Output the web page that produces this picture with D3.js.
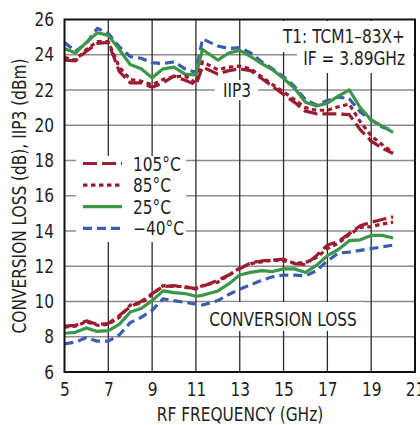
<!DOCTYPE html>
<html>
<head>
<meta charset="utf-8">
<script src="https://cdn.jsdelivr.net/npm/d3@7"></script>
<style>
  body { margin: 0; background: #fff; }
  text { font-family: "Liberation Sans Narrow", "DejaVu Sans Condensed", "Arial Narrow", sans-serif; fill: #231f20; }
</style>
</head>
<body>
<svg id="chart" width="420" height="425"></svg>
<script>
// frequency points (GHz)
var freq = [5, 5.5, 6, 6.5, 7, 7.5, 8, 8.5, 9, 9.5, 10, 10.5, 11, 11.3, 12, 12.5, 13, 13.5, 14, 14.5, 15, 15.5, 16, 16.5, 17, 17.5, 18, 18.5, 19, 19.5, 20];

// IIP3 (dBm)
var iip3_105 = [23.7, 23.65, 24.2, 24.65, 24.7, 23.05, 22.4, 22.4, 22.15, 22.4, 22.8, 22.55, 22.3, 23.3, 22.9, 23.1, 23.2, 23.1, 22.65, 22.2, 21.75, 21.3, 20.8, 20.65, 20.65, 20.65, 20.6, 19.75, 19.1, 18.7, 18.4];
var iip3_85 = [23.85, 23.7, 24.3, 24.75, 24.75, 23.3, 22.6, 22.5, 22.3, 22.6, 22.75, 22.8, 22.4, 23.6, 23.15, 23.3, 23.35, 23.2, 22.75, 22.3, 21.9, 21.45, 21.0, 20.85, 20.85, 21.05, 21.2, 20.2, 19.4, 18.9, 18.45];
var iip3_25 = [24.35, 24.1, 24.7, 25.25, 25.1, 24.3, 23.45, 23.2, 22.7, 23.2, 23.3, 22.9, 22.85, 24.3, 23.7, 24.1, 24.25, 23.9, 23.5, 23.15, 22.65, 22.1, 21.3, 21.1, 21.25, 21.65, 22.0, 21.0, 20.3, 19.95, 19.6];
var iip3_m40 = [24.7, 24.2, 24.65, 25.5, 25.2, 24.45, 23.9, 23.8, 23.55, 23.5, 23.6, 23.2, 23.0, 24.9, 24.5, 24.35, 24.4, 24.1, 23.6, 23.2, 22.75, 22.2, 21.45, 21.15, 21.4, 21.6, 21.5, 20.75, 20.3, 19.9, 19.7];

// conversion loss (dB)
var cl_105 = [8.6, 8.65, 8.9, 8.7, 8.75, 9.2, 9.7, 10.0, 10.45, 10.85, 10.9, 10.8, 10.75, 10.85, 11.2, 11.5, 11.85, 12.2, 12.3, 12.35, 12.4, 12.15, 12.1, 12.6, 13.2, 13.4, 13.85, 14.3, 14.5, 14.65, 14.8];
var cl_85 = [8.55, 8.6, 8.85, 8.65, 8.7, 9.1, 9.8, 9.9, 10.4, 10.9, 10.85, 10.85, 10.7, 10.9, 11.1, 11.5, 11.9, 12.15, 12.25, 12.35, 12.3, 12.2, 12.2, 12.5, 13.0, 13.3, 13.8, 14.2, 14.25, 14.4, 14.5];
var cl_25 = [8.2, 8.25, 8.5, 8.3, 8.35, 8.7, 9.4, 9.6, 10.05, 10.6, 10.5, 10.45, 10.3, 10.35, 10.6, 11.0, 11.5, 11.65, 11.75, 11.7, 11.85, 11.85, 11.65, 12.05, 12.6, 12.95, 13.45, 13.5, 13.75, 13.75, 13.6];
var cl_m40 = [7.6, 7.7, 7.95, 7.75, 7.75, 8.1, 8.8, 9.1, 9.5, 10.15, 10.05, 9.95, 9.85, 9.8, 10.05, 10.4, 10.7, 10.95, 11.2, 11.4, 11.5, 11.5, 11.45, 11.75, 12.3, 12.75, 12.8, 12.9, 13.0, 13.1, 13.2];

var xTicks = [5, 7, 9, 11, 13, 15, 17, 19, 21];
var yTicks = [6, 8, 10, 12, 14, 16, 18, 20, 22, 24, 26];
var tempLabels = ["105°C", "85°C", "25°C", "\u221240°C"];

var red = "#9c1c31", green = "#3b9648", blue = "#3a5daf";
var styles = [
  { color: red, dash: "14,5" },
  { color: red, dash: "4.5,3.5" },
  { color: green, dash: null },
  { color: blue, dash: "9,5" }
];

var svg = d3.select("#chart");
var pLeft = 64.5, pRight = 415, pTop = 19.5, pBottom = 372;
var squeeze = "scale(0.9,1)";

var x = d3.scaleLinear().domain([5, 21]).range([pLeft, pRight]);
var y = d3.scaleLinear().domain([6, 26]).range([pBottom, pTop]);

// narrow, tall text like the original condensed face
function label(px, py, str, anchor, extra) {
    return svg.append("text")
        .attr("transform", "translate(" + px + "," + py + ")" + (extra || "") + " " + squeeze)
        .attr("text-anchor", anchor || "start")
        .style("font-size", "19px")
        .text(str);
}

// grid
svg.append("g").selectAll("line")
    .data(yTicks.filter(function(d) { return d > 6 && d < 26; }))
    .enter().append("line")
    .attr("x1", pLeft).attr("x2", pRight)
    .attr("y1", function(d) { return y(d); })
    .attr("y2", function(d) { return y(d); })
    .style("stroke", "#8c8c8c").style("stroke-width", 1.5);

svg.append("g").selectAll("line")
    .data(xTicks.filter(function(d) { return d > 5 && d < 21; }))
    .enter().append("line")
    .attr("y1", pTop).attr("y2", pBottom)
    .attr("x1", function(d) { return x(d); })
    .attr("x2", function(d) { return x(d); })
    .style("stroke", "#2b2b2b").style("stroke-width", 1.3);

// white blocks behind labels
var blocks = [[255, 21, 158, 31], [297, 52, 116, 21], [215, 80, 43, 20], [76, 156, 110, 86], [205, 302, 158, 29]];
svg.append("g").selectAll("rect")
    .data(blocks)
    .enter().append("rect")
    .attr("x", function(d) { return d[0]; })
    .attr("y", function(d) { return d[1]; })
    .attr("width", function(d) { return d[2]; })
    .attr("height", function(d) { return d[3]; })
    .style("fill", "#fff");

// curves
var line = d3.line()
    .x(function(d) { return x(d[0]); })
    .y(function(d) { return y(d[1]); });

var series = [
  [iip3_105, 0], [iip3_85, 1], [iip3_25, 2], [iip3_m40, 3],
  [cl_105, 0], [cl_85, 1], [cl_25, 2], [cl_m40, 3]
];
// draw blue, green first so red is on top like the original
[3, 2, 1, 0].forEach(function(k) {
    series.filter(function(s) { return s[1] === k; }).forEach(function(s) {
        svg.append("path")
            .datum(d3.zip(freq, s[0]))
            .attr("d", line)
            .style("fill", "none")
            .style("stroke", styles[k].color)
            .style("stroke-width", 3.2)
            .style("stroke-linejoin", "round")
            .style("stroke-dasharray", styles[k].dash);
    });
});

// frame
svg.append("rect")
    .attr("x", pLeft).attr("y", pTop)
    .attr("width", pRight - pLeft).attr("height", pBottom - pTop)
    .style("fill", "none").style("stroke", "#111").style("stroke-width", 2);

// axes
var xAxis = svg.append("g")
    .attr("transform", "translate(0," + pBottom + ")")
    .call(d3.axisBottom(x).tickValues(xTicks).tickSize(0).tickPadding(11));
var yAxis = svg.append("g")
    .attr("transform", "translate(" + pLeft + ",0)")
    .call(d3.axisLeft(y).tickValues(yTicks).tickSize(0).tickPadding(11.5));
[xAxis, yAxis].forEach(function(a) {
    a.select(".domain").remove();
    a.attr("font-family", null).attr("font-size", null);
    a.selectAll("text")
        .attr("transform", squeeze)
        .style("font-size", "19px").style("fill", "#231f20");
});

// axis titles
label(240, 421, "RF FREQUENCY (GHz)", "middle");
label(26, 196, "CONVERSION LOSS (dB), IIP3 (dBm)", "middle", " rotate(-90)");

// annotations
label(405, 43, "T1: TCM1\u201383X+", "end");
label(405, 65, "IF = 3.89GHz", "end");
label(237, 97, "IIP3", "middle");
label(283, 326, "CONVERSION LOSS", "middle");

// legend
tempLabels.forEach(function(d, i) {
    var ly = 163.5 + i * 21.6;
    svg.append("line")
        .attr("x1", 83).attr("x2", 122)
        .attr("y1", ly).attr("y2", ly)
        .style("stroke", styles[i].color)
        .style("stroke-width", 3.2)
        .style("stroke-dasharray", styles[i].dash);
    label(133, ly + 7, d, "start");
});
</script>
</body>
</html>
